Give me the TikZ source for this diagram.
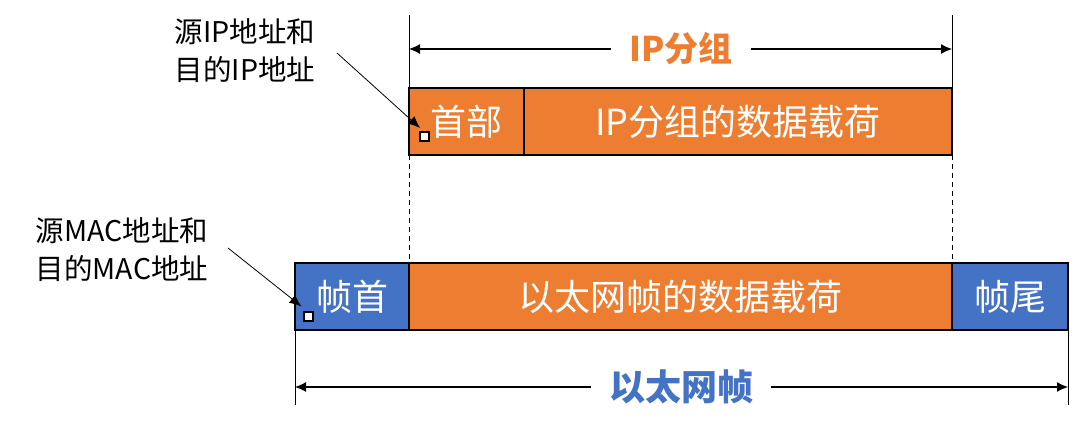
\documentclass[tikz,border=0pt]{standalone}
\usepackage{fontspec}
\setmainfont{Noto Sans CJK SC}
\usetikzlibrary{arrows.meta}
\definecolor{iporange}{HTML}{ED7D31}
\definecolor{ethblue}{HTML}{4472C4}

\begin{document}
\begin{tikzpicture}[x=1pt,y=-1pt]
				\tikzstyle{every node}=[inner sep=0pt,outer sep=0pt]
				\tikzstyle{fieldbox}=[draw=black,line width=2.5pt,minimum height=67pt,anchor=north west,
				text=white,font=\fontsize{36}{38}\selectfont]
				\tikzstyle{orangebox}=[fieldbox,fill=iporange]
				\tikzstyle{bluebox}=[fieldbox,fill=ethblue]
				\tikzstyle{dot}=[draw=black,fill=white,line width=1.8pt,minimum size=9pt]
				\tikzstyle{note}=[align=left,font=\fontsize{28.5}{38}\selectfont]
				\tikzstyle{dim}=[line width=1.2pt,{Latex[length=11pt,width=10pt]}-{Latex[length=11pt,width=10pt]}]
				\tikzstyle{ext}=[line width=0.8pt]
				\tikzstyle{callout}=[line width=0.8pt,-{Latex[length=12pt,width=10pt]}]
				\useasboundingbox (0,0) rectangle (1082,433);
				% IP packet
				\node[orangebox,minimum width=115pt] (hdr) at (409,88) {首部};
				\node[orangebox,minimum width=428pt] (ippay) at (524,88) {IP分组的数据载荷};
				% Ethernet frame
				\node[bluebox,minimum width=114pt] (fhead) at (295,263) {帧首};
				\node[orangebox,minimum width=543pt] (ethpay) at (409,263) {以太网帧的数据载荷};
				\node[bluebox,minimum width=116pt] (ftail) at (952,263) {帧尾};
				% extension lines
				\coordinate (iptopl) at (409,15);
				\coordinate (iptopr) at (952,15);
				\coordinate (ethbotl) at (295,405);
				\coordinate (ethbotr) at (1068,405);
				\draw[ext] (hdr.north west) -- (iptopl);
				\draw[ext] (ippay.north east) -- (iptopr);
				\draw[ext] (fhead.south west) -- (ethbotl);
				\draw[ext] (ftail.south east) -- (ethbotr);
				\draw[ext,dashed,dash pattern=on 5pt off 4pt] (hdr.south west) -- (ethpay.north west);
				\draw[ext,dashed,dash pattern=on 5pt off 4pt] (ippay.south east) -- (ethpay.north east);
				% dimension arrows
				\coordinate (ipl) at (409,49);
				\coordinate (ipr) at (952,49);
				\coordinate (ethl) at (295,387);
				\coordinate (ethr) at (1068,387);
				\draw[dim] (ipl) -- (ipr);
				\draw[dim] (ethl) -- (ethr);
				\node[fill=white,inner xsep=18pt,inner ysep=4pt,text=iporange,font=\fontsize{34}{36}\selectfont\bfseries] (iplabel) at (681,49) {IP分组};
				\node[fill=white,inner xsep=18pt,inner ysep=4pt,text=ethblue,font=\fontsize{36}{38}\selectfont\bfseries] (ethlabel) at (681,387) {以太网帧};
				% address markers
				\node[dot] (ipdot) at (424.5,136.5) {};
				\node[dot] (macdot) at (308.5,316.5) {};
				\node[note] (ipnote) at (245,51) {源IP地址和\\目的IP地址};
				\node[note] (macnote) at (122,250) {源MAC地址和\\目的MAC地址};
				\coordinate (ipfrom) at (337,53);
				\coordinate (macfrom) at (228,248);
				\draw[callout,shorten >=6pt] (ipfrom) -- (ipdot.north);
				\draw[callout,shorten >=9pt] (macfrom) -- (macdot.north);
\end{tikzpicture}
\end{document}
